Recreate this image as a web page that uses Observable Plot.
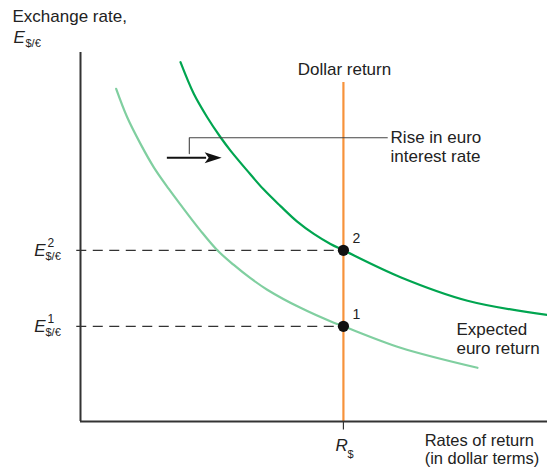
<!DOCTYPE html>
<html>
<head>
<meta charset="utf-8">
<script src="https://cdn.jsdelivr.net/npm/d3@7"></script>
<script src="https://cdn.jsdelivr.net/npm/@observablehq/plot@0.6"></script>
<style>
  html, body { margin: 0; padding: 0; background: #fff; }
  #chart svg { display: block; }
</style>
</head>
<body>
<div id="chart"></div>
<script>
// ---- data (abstract units: x 0–100, y 0–100) ----
const dollarReturn = 56.3;             // R$
const rateLevels = [25.8, 46.4];       // E¹, E² (equilibria 1 and 2)
const equilibriumLabels = ["1", "2"];
const initialCurveX = [7.64, 10.0, 12.85, 15.7, 18.91, 21.41, 25.7, 29.3, 32.76, 36.4, 39.98, 47.11, 54.24, 56.3, 68.52, 85.0];
const initialCurveY = [90.15, 82.45, 75.24, 68.89, 63.03, 58.77, 51.72, 46.4, 42.5, 38.84, 35.72, 30.8, 26.77, 25.8, 19.99, 14.56];
const shiftedCurveX = [21.41, 24.26, 27.13, 29.98, 32.12, 35.7, 39.25, 42.83, 46.41, 49.96, 53.53, 56.3, 68.52, 82.87, 100];
const shiftedCurveY = [97.37, 88.8, 82.45, 77.03, 73.42, 67.99, 62.84, 58.37, 54.16, 50.83, 48.11, 46.4, 39.11, 32.74, 28.86];
const dollarLineTop = 91.9;

const initialCurve = initialCurveX.map((x, i) => ({x, y: initialCurveY[i]}));
const shiftedCurve = shiftedCurveX.map((x, i) => ({x, y: shiftedCurveY[i]}));
const equilibria = rateLevels.map((y, i) => ({x: dollarReturn, y, label: equilibriumLabels[i]}));

const ink = "#222";
const font = "Liberation Sans, Arial, Helvetica, sans-serif";
const fs = 17;
const arrowHead = {
  draw(ctx) {
    ctx.moveTo(9, 0); ctx.lineTo(-8, -5.5); ctx.lineTo(-4, 0); ctx.lineTo(-8, 5.5); ctx.closePath();
  }
};

const chart = Plot.plot({
  width: 547,
  height: 468,
  marginLeft: 80,
  marginRight: 0,
  marginTop: 52,
  marginBottom: 47,
  x: {domain: [0, 100], axis: null},
  y: {domain: [0, 100], axis: null},
  style: {fontFamily: font, color: ink, background: "#fff"},
  marks: [
    // dashed guides
    Plot.ruleY(rateLevels, {x1: -0.8, x2: dollarReturn, stroke: "#333", strokeWidth: 1.3, strokeDasharray: "10,6.5"}),
    // curves
    Plot.line(initialCurve, {x: "x", y: "y", curve: "catmull-rom", stroke: "#80cfa0", strokeWidth: 2.2}),
    Plot.line(shiftedCurve, {x: "x", y: "y", curve: "catmull-rom", stroke: "#00a550", strokeWidth: 2.2}),
    // dollar return line
    Plot.ruleX([dollarReturn], {y1: 0, y2: dollarLineTop, stroke: "#f7923a", strokeWidth: 2.2}),
    // axes
    Plot.ruleX([0], {y1: 0, y2: 100, stroke: "#333", strokeWidth: 2}),
    Plot.ruleY([0], {x1: 0, x2: 100, stroke: "#333", strokeWidth: 2}),
    Plot.ruleX([dollarReturn], {y1: 0, y2: -2.3, stroke: "#333", strokeWidth: 1.2}),
    // equilibrium points
    Plot.dot(equilibria, {x: "x", y: "y", r: 5.6, fill: "#111", stroke: "none"}),
    Plot.text(equilibria, {x: "x", y: "y", text: "label", textAnchor: "start", lineAnchor: "bottom", dx: 9, dy: -7, fontSize: 14, fill: ink}),
    // annotation: rise in euro interest rate
    Plot.line([{x: 23.3, y: 72.6}, {x: 23.3, y: 76.9}, {x: 65.7, y: 76.9}], {x: "x", y: "y", stroke: "#444", strokeWidth: 1.1}),
    Plot.ruleY([71.5], {x1: 18.6, x2: 27.0, stroke: "#111", strokeWidth: 2}),
    Plot.dot([{x: 28.3, y: 71.5}], {x: "x", y: "y", symbol: arrowHead, r: 3, fill: "#111", stroke: "none"}),
    Plot.text(["Rise in euro\ninterest rate"], {x: 66.4, y: 70.2, textAnchor: "start", lineAnchor: "bottom", lineHeight: 19 / fs, fontSize: fs, fill: ink}),
    // labels
    Plot.text(["Dollar return"], {x: dollarReturn, y: 94.0, dx: 1, textAnchor: "middle", lineAnchor: "bottom", fontSize: fs, fill: ink}),
    Plot.text(["Expected\neuro return"], {x: 80.5, y: 18.3, textAnchor: "start", lineAnchor: "bottom", lineHeight: 19 / fs, fontSize: fs, fill: ink}),
    Plot.text(["Rates of return\n(in dollar terms)"], {x: 73.7, y: -11.5, textAnchor: "start", lineAnchor: "bottom", lineHeight: 17.5 / 16.5, fontSize: 16.5, fill: ink}),
    // R$ tick label
    Plot.text(["R"], {x: dollarReturn, y: -7.9, dx: -8, textAnchor: "start", lineAnchor: "bottom", fontSize: fs, fontStyle: "italic", fill: ink}),
    Plot.text(["$"], {x: dollarReturn, y: -9.8, dx: 4, textAnchor: "start", lineAnchor: "bottom", fontSize: 11, fill: ink}),
    // y tick labels E¹, E²
    Plot.text(rateLevels, {x: 0, y: d => d, dx: -35, dy: 6, text: () => "E", textAnchor: "end", lineAnchor: "bottom", fontSize: fs, fontStyle: "italic", fill: ink}),
    Plot.text(equilibria, {x: 0, y: "y", dx: -33, dy: -3, text: "label", textAnchor: "start", lineAnchor: "bottom", fontSize: 12, fill: ink}),
    Plot.text(rateLevels, {x: 0, y: d => d, dx: -35, dy: 10, text: () => "$/€", textAnchor: "start", lineAnchor: "bottom", fontSize: 11, fill: ink}),
    // y axis title
    Plot.text(["Exchange rate,"], {x: 0, y: 108.4, dx: -68, textAnchor: "start", lineAnchor: "bottom", fontSize: fs, fill: ink}),
    Plot.text(["E"], {x: 0, y: 102.7, dx: -67, textAnchor: "start", lineAnchor: "bottom", fontSize: fs, fontStyle: "italic", fill: ink}),
    Plot.text(["$/€"], {x: 0, y: 101.6, dx: -55, textAnchor: "start", lineAnchor: "bottom", fontSize: 11, fill: ink})
  ]
});
document.getElementById("chart").appendChild(chart);
</script>
</body>
</html>
